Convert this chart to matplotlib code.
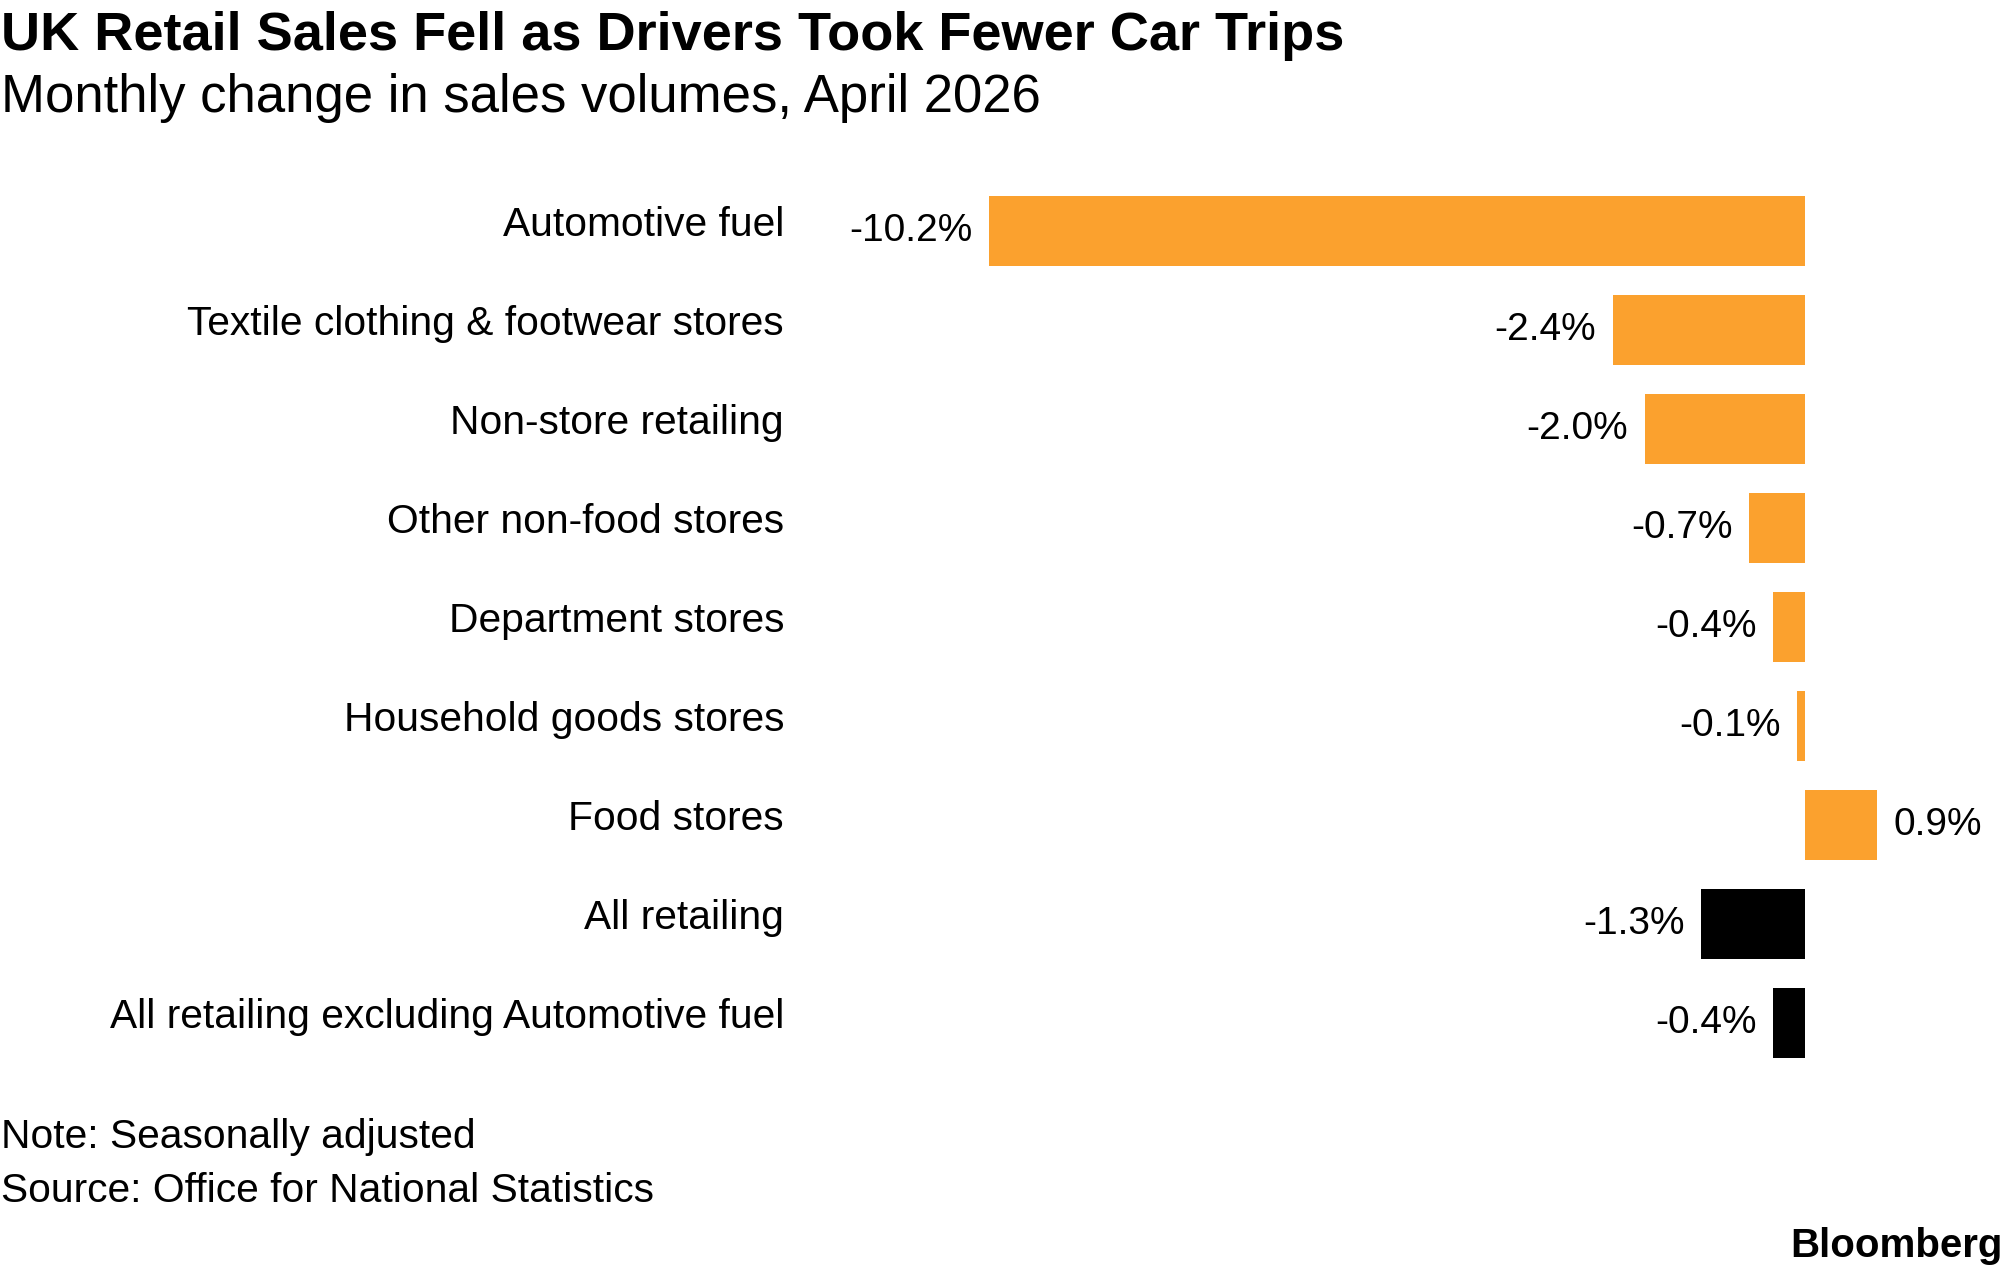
import matplotlib.pyplot as plt

# Datos
categories = [
    'Automotive fuel',
    'Textile clothing & footwear stores',
    'Non-store retailing',
    'Other non-food stores',
    'Department stores',
    'Household goods stores',
    'Food stores',
    'All retailing',
    'All retailing excluding Automotive fuel',
]
values = [-10.2, -2.4, -2.0, -0.7, -0.4, -0.1, 0.9, -1.3, -0.4]
is_total = [False, False, False, False, False, False, False, True, True]

ORANGE = '#FBA12E'
BLACK = '#000000'

plt.rcParams['font.family'] = ['Liberation Sans', 'DejaVu Sans']

W, H = 2005, 1272
fig = plt.figure(figsize=(W / 100, H / 100), dpi=100)

# Ejes colocados en píxeles
ax_left, ax_right = 800, 2005
ax_top, ax_bottom = 180, 1075
ax = fig.add_axes([ax_left / W, 1 - ax_bottom / H,
                   (ax_right - ax_left) / W, (ax_bottom - ax_top) / H])

zero_px, px_per_unit = 1805, 80
ax.set_xlim(-(zero_px - ax_left) / px_per_unit, (ax_right - zero_px) / px_per_unit)
row0, step = 231, 99
ax.set_ylim((ax_bottom - row0) / step, (ax_top - row0) / step)

ypos = list(range(len(categories)))
colors = [BLACK if t else ORANGE for t in is_total]
ax.barh(ypos, values, height=0.7, color=colors, linewidth=0)

# Etiquetas de valor
for y, v in zip(ypos, values):
    if v < 0:
        ax.annotate(f'{v:.1f}%', (v, y), xytext=(-12, 0), textcoords='offset points',
                    ha='right', va='center', fontsize=28)
    else:
        ax.annotate(f'{v:.1f}%', (v, y), xytext=(12, 0), textcoords='offset points',
                    ha='left', va='center', fontsize=28)

# Etiquetas de categoría (un poco por encima del centro de la barra)
for y, cat in zip(ypos, categories):
    ax.annotate(cat, (0, y), xycoords=('axes fraction', 'data'),
                xytext=(-11.5, -3.6), textcoords='offset points',
                ha='right', va='baseline', fontsize=29.3)

ax.set_xticks([])
ax.set_yticks([])
for s in ax.spines.values():
    s.set_visible(False)

# Títulos y notas
fig.text(0.0005, 1 - 50 / H, 'UK Retail Sales Fell as Drivers Took Fewer Car Trips',
         fontsize=39, fontweight='bold', va='baseline', ha='left')
fig.text(0.0005, 1 - 112 / H, 'Monthly change in sales volumes, April 2026',
         fontsize=38, va='baseline', ha='left')
fig.text(0.0005, 1 - 1148 / H, 'Note: Seasonally adjusted',
         fontsize=29.3, va='baseline', ha='left')
fig.text(0.0005, 1 - 1202 / H, 'Source: Office for National Statistics',
         fontsize=29.3, va='baseline', ha='left')
fig.text(2003 / W, 1 - 1257 / H, 'Bloomberg',
         fontsize=29, fontweight='bold', va='baseline', ha='right')

fig.savefig('out.png', dpi=100, facecolor='white')
